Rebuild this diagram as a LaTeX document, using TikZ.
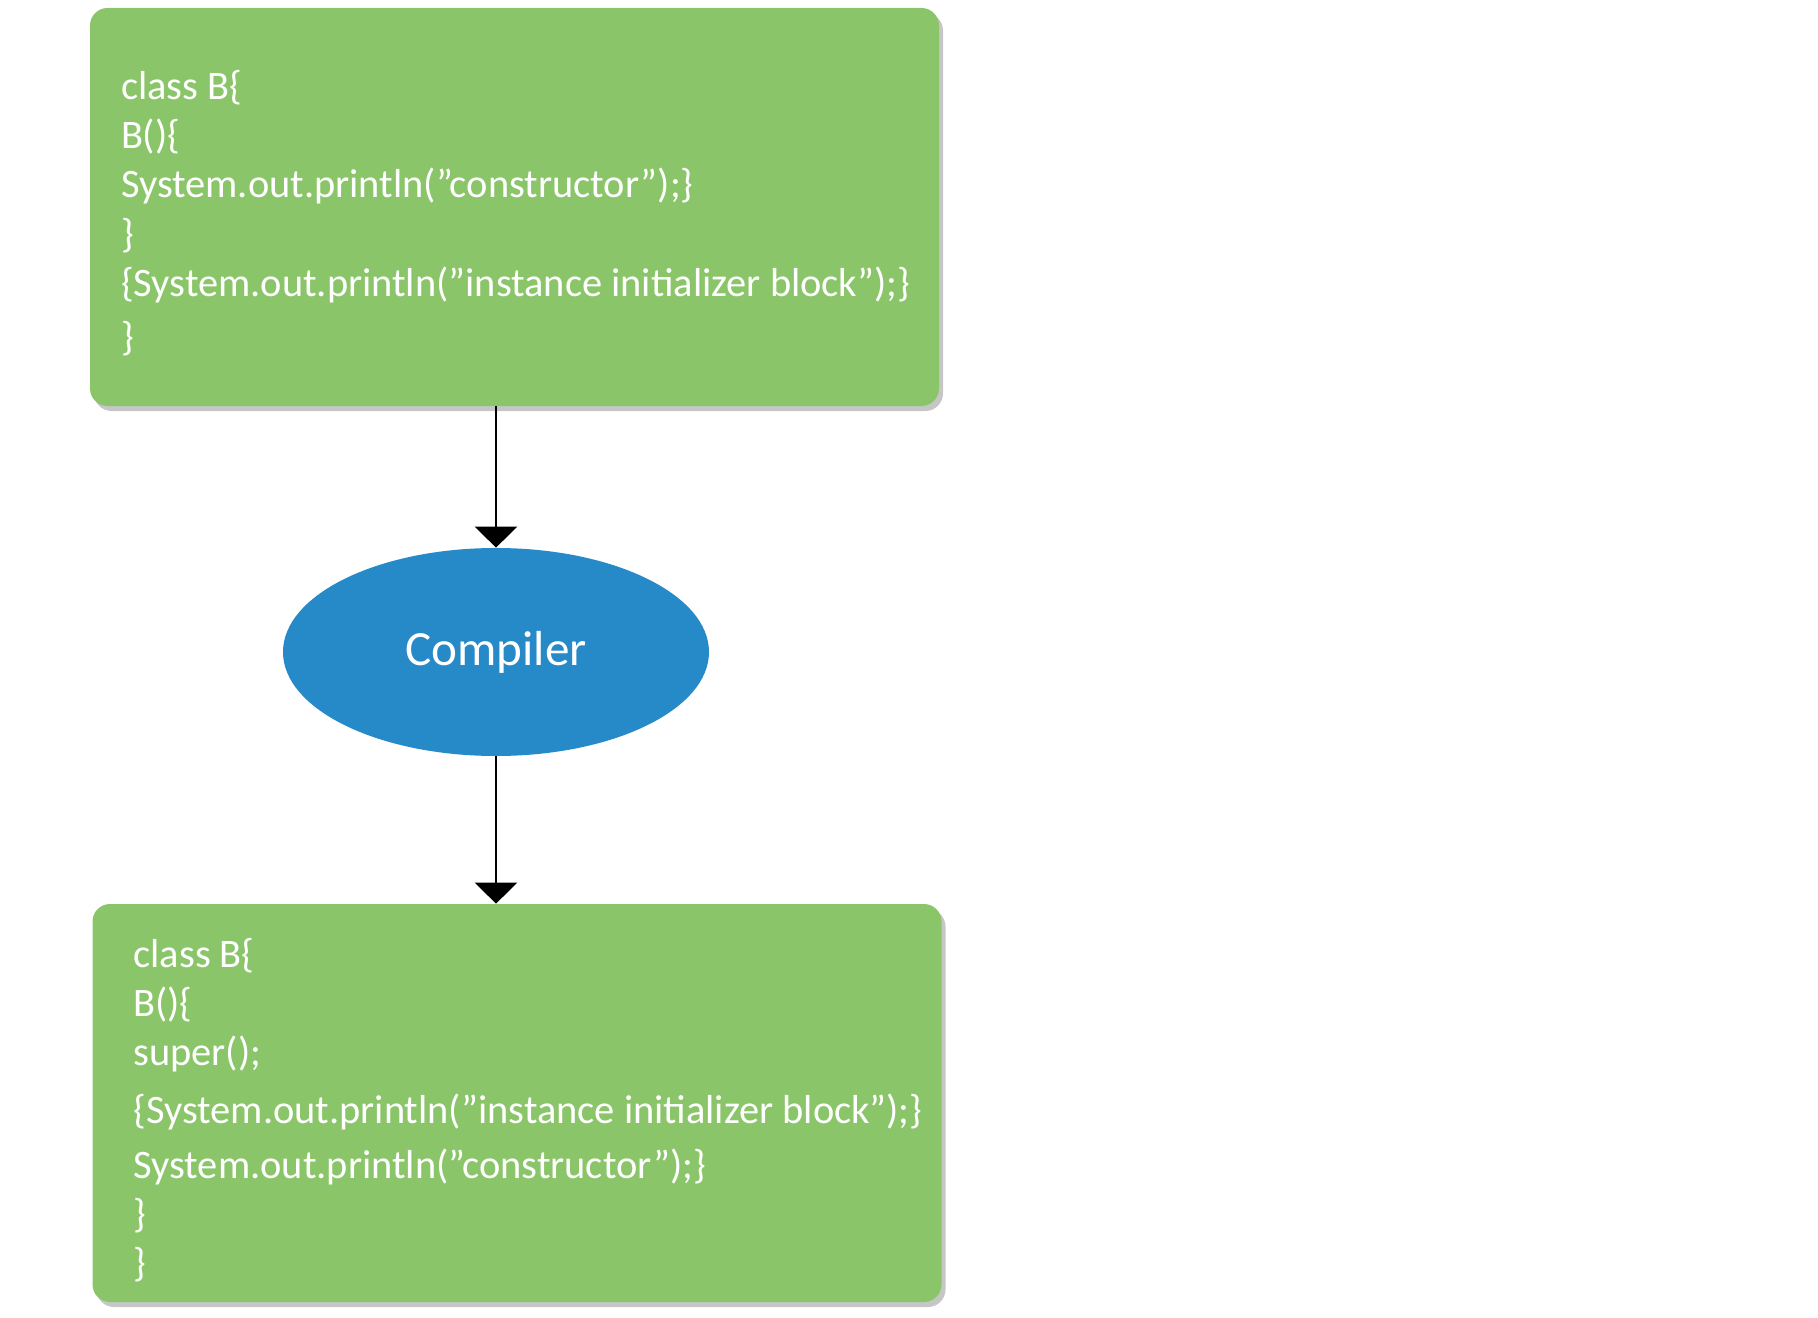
\documentclass[tikz,border=0pt]{standalone}
\usepackage{fontspec}
\setmainfont{Carlito}
\usetikzlibrary{positioning,shapes.geometric,shadows,arrows.meta}
\definecolor{boxgreen}{RGB}{139,197,106}
\definecolor{compblue}{RGB}{38,137,200}
\tikzset{
  codebox/.style={fill=boxgreen, rounded corners=0.35cm, minimum width=16.98cm,
    minimum height=7.96cm, inner sep=0pt,
    drop shadow={shadow xshift=0.08cm, shadow yshift=-0.1cm, opacity=0.45}},
  codetext/.style={text=white, align=left, anchor=west, inner sep=0pt,
    font=\fontsize{23}{28}\selectfont},
  flow/.style={-{Triangle[width=0.84cm,length=0.42cm]}, line width=1.7pt}
}
\begin{document}
\begin{tikzpicture}[y=-1cm]
  \useasboundingbox (0,0) rectangle (36.36,26.36);
  % source before compiling
  \node[codebox] (src) at (10.29,4.14) {};
  \node[codetext, right=0.62cm of src.west, yshift=-0.12cm] (srctext) {class B\{\\
    B()\{\\
    System.out.println(”constructor”);\}\\
    \}\\
    \{System.out.println(”instance initializer block”);\}\\[0.09cm]
    \}};
  % compiler
  \node[ellipse, fill=compblue, minimum width=8.52cm, minimum height=4.16cm,
    inner sep=0pt, text=white, font=\fontsize{28}{30}\selectfont] (comp) at (9.92,13.04) {Compiler};
  % result after compiling
  \node[codebox] (res) at (10.34,22.06) {};
  \node[codetext, right=0.82cm of res.west, yshift=-0.14cm] (restext) {class B\{\\
    B()\{\\
    super();\\[0.18cm]
    \{System.out.println(”instance initializer block”);\}\\[0.1cm]
    System.out.println(”constructor”);\}\\
    \}\\
    \}};
  \draw[flow] (comp.north |- src.south) -- (comp.north);
  \draw[flow] (comp.south) -- (comp.south |- res.north);
\end{tikzpicture}
\end{document}
